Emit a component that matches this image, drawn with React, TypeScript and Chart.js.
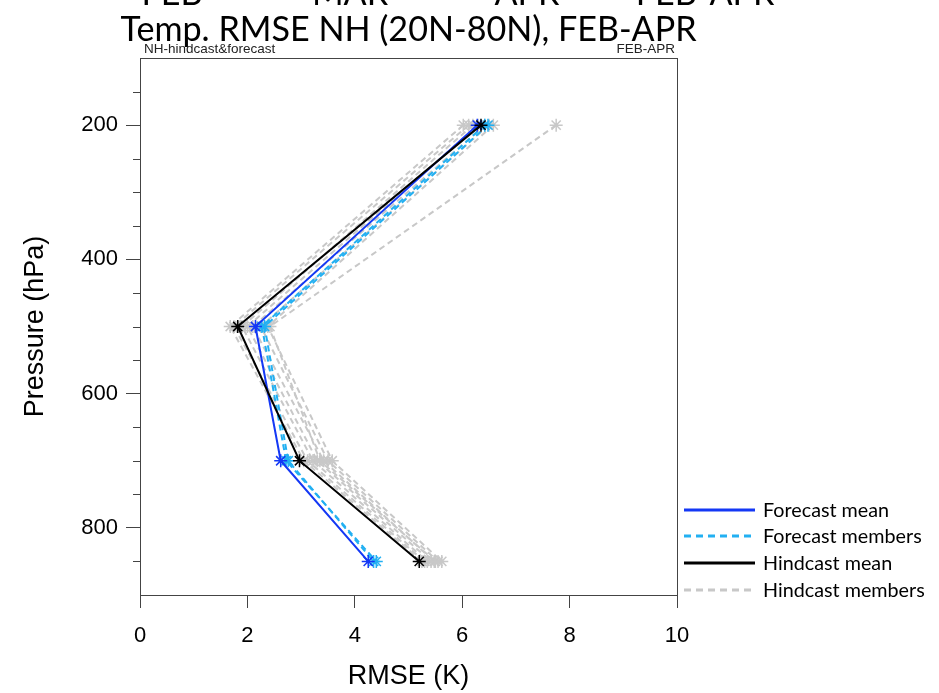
import React, { useEffect, useRef } from 'react';
import { Chart, registerables } from 'chart.js';

Chart.register(...registerables);

// ---- data ----
const levels = [200, 500, 700, 850];
const forecastMean = [6.28, 2.15, 2.62, 4.25];
const hindcastMean = [6.35, 1.82, 2.97, 5.2];
const forecastMember1 = [6.42, 2.27, 2.72, 4.4];
const forecastMember2 = [6.48, 2.32, 2.76, 4.35];
const hindcastMember1 = [6.02, 1.68, 3.05, 5.25];
const hindcastMember2 = [6.12, 1.75, 3.12, 5.3];
const hindcastMember3 = [6.2, 1.9, 3.22, 5.35];
const hindcastMember4 = [6.3, 2.0, 3.3, 5.42];
const hindcastMember5 = [6.42, 2.1, 3.42, 5.48];
const hindcastMember6 = [6.5, 2.25, 3.5, 5.55];
const hindcastMember7 = [6.58, 2.38, 3.58, 5.62];
const hindcastMember8 = [7.75, 2.42, 3.35, 5.5];
const xTicks = [0, 2, 4, 6, 8, 10];
const yMajorTicks = [200, 400, 600, 800];
const yMinorTicks = [150, 250, 300, 350, 450, 500, 550, 650, 700, 750, 850];
const title = 'Temp. RMSE NH (20N-80N), FEB-APR';
const topCutLabels = ['FEB', 'MAR', 'APR', 'FEB-APR'];
const legendLabels = ['Forecast mean', 'Forecast members', 'Hindcast mean', 'Hindcast members'];

const BLUE = '#1438f5';
const CYAN = '#22b0f2';
const BLACK = '#000000';
const GRAY = '#c8c8c8';
const AXIS = '#444444';
const CAL_FONT = 'Lato';
const HELV = '"Liberation Sans", Arial, sans-serif';

export default function App() {
  const ref = useRef<HTMLCanvasElement>(null);

  useEffect(() => {
    const mk = (vals: number[]) => vals.map((v, i) => ({ x: v, y: levels[i] }));
    const datasets: any[] = [];
    const hMembers = [hindcastMember1, hindcastMember2, hindcastMember3, hindcastMember4, hindcastMember5, hindcastMember6, hindcastMember7, hindcastMember8];
    hMembers.forEach((m, i) => {
      datasets.push({
        label: 'Hindcast member ' + (i + 1), data: mk(m), showLine: true,
        borderColor: GRAY, backgroundColor: GRAY, borderWidth: 2, borderDash: [6, 4],
        pointStyle: 'star', pointRadius: 6.5, pointBorderWidth: 1.5, pointBorderColor: GRAY, order: 5,
      });
    });
    [forecastMember1, forecastMember2].forEach((m, i) => {
      datasets.push({
        label: 'Forecast member ' + (i + 1), data: mk(m), showLine: true,
        borderColor: CYAN, backgroundColor: CYAN, borderWidth: 2, borderDash: [6, 4],
        pointStyle: 'star', pointRadius: 6.5, pointBorderWidth: 1.5, pointBorderColor: CYAN, order: 3,
      });
    });
    datasets.push({
      label: 'Forecast mean', data: mk(forecastMean), showLine: true,
      borderColor: BLUE, backgroundColor: BLUE, borderWidth: 2,
      pointStyle: 'star', pointRadius: 6.5, pointBorderWidth: 1.5, pointBorderColor: BLUE, order: 2,
    });
    datasets.push({
      label: 'Hindcast mean', data: mk(hindcastMean), showLine: true,
      borderColor: BLACK, backgroundColor: BLACK, borderWidth: 2,
      pointStyle: 'star', pointRadius: 6.5, pointBorderWidth: 1.5, pointBorderColor: BLACK, order: 1,
    });

    const decor = {
      id: 'decor',
      afterDraw(chart: any) {
        const ctx = chart.ctx as CanvasRenderingContext2D;
        const ca = chart.chartArea;
        const ys = chart.scales.y;
        ctx.save();
        ctx.strokeStyle = AXIS;
        ctx.lineWidth = 1;
        ctx.strokeRect(Math.round(ca.left) + 0.5, Math.round(ca.top) + 0.5, Math.round(ca.right - ca.left), Math.round(ca.bottom - ca.top));
        yMinorTicks.forEach((v) => {
          const py = Math.round(ys.getPixelForValue(v)) + 0.5;
          ctx.beginPath();
          ctx.moveTo(ca.left - 7, py);
          ctx.lineTo(ca.left, py);
          ctx.stroke();
        });
        const calSize = 38;
        ctx.font = `${Math.round(calSize * 0.9)}px ${CAL_FONT}`;
        const w = ctx.measureText(title).width;
        const sx = 573 / w;
        const drawCal = (text: string, x: number, y: number, size: number, align: CanvasTextAlign, color = '#000') => {
          ctx.save();
          ctx.font = `${size * 0.9}px ${CAL_FONT}`;
          ctx.fillStyle = color;
          ctx.textAlign = align;
          ctx.textBaseline = 'alphabetic';
          ctx.translate(x, y);
          ctx.scale(sx, 1);
          ctx.fillText(text, 0, 0);
          ctx.restore();
        };
        const cx = (ca.left + ca.right) / 2;
        drawCal(title, cx, 41, calSize, 'center');
        const cutX = [172, 350, 527, 705];
        topCutLabels.forEach((t, i) => drawCal(t, cutX[i], 5, calSize, 'center'));
        ctx.font = `13.5px ${HELV}`;
        ctx.fillStyle = '#222';
        ctx.textBaseline = 'alphabetic';
        ctx.textAlign = 'left';
        ctx.fillText('NH-hindcast&forecast', ca.left + 4, ca.top - 5);
        ctx.textAlign = 'right';
        ctx.fillText('FEB-APR', ca.right - 2, ca.top - 5);
        const rows = [510, 536, 563, 590];
        const lcol = [BLUE, CYAN, BLACK, GRAY];
        const ldash = [[], [7, 5], [], [7, 5]];
        legendLabels.forEach((lab, i) => {
          ctx.save();
          ctx.strokeStyle = lcol[i];
          ctx.lineWidth = 3;
          ctx.setLineDash(ldash[i]);
          ctx.beginPath();
          ctx.moveTo(684, rows[i]);
          ctx.lineTo(755, rows[i]);
          ctx.stroke();
          ctx.restore();
          drawCal(lab, 763, rows[i] + 7, 22, 'left');
        });
        ctx.restore();
      },
    };

    const chart = new Chart(ref.current as HTMLCanvasElement, {
      type: 'scatter',
      data: { datasets },
      options: {
        responsive: false,
        animation: false,
        layout: { padding: { top: 58, right: 262, left: 0, bottom: 0 } },
        plugins: { legend: { display: false }, tooltip: { enabled: false }, title: { display: false } },
        scales: {
          x: {
            type: 'linear', min: 0, max: 10,
            afterFit: (s: any) => { s.height = 98; },
            afterBuildTicks: (s: any) => { s.ticks = xTicks.map((v) => ({ value: v })); },
            grid: { drawOnChartArea: false, drawTicks: true, tickLength: 13, tickColor: AXIS, tickWidth: 1 },
            border: { display: true, color: AXIS, width: 1 },
            ticks: { color: '#000', font: { family: HELV, size: 22 }, padding: 15, maxRotation: 0 },
            title: { display: true, text: 'RMSE (K)', color: '#000', font: { family: HELV, size: 27 }, padding: { top: 1, bottom: 0 } },
          },
          y: {
            type: 'linear', min: 100, max: 900, reverse: true,
            afterFit: (s: any) => { s.width = 140; },
            afterBuildTicks: (s: any) => { s.ticks = yMajorTicks.map((v) => ({ value: v })); },
            grid: { drawOnChartArea: false, drawTicks: true, tickLength: 14, tickColor: AXIS, tickWidth: 1 },
            border: { display: true, color: AXIS, width: 1 },
            ticks: { color: '#000', font: { family: HELV, size: 22 }, padding: 8 },
            title: { display: true, text: 'Pressure (hPa)', color: '#000', font: { family: HELV, size: 27 }, padding: { top: 19, bottom: 0 } },
          },
        },
      },
      plugins: [decor],
    } as any);
    return () => chart.destroy();
  }, []);

  return (
    <div style={{ position: 'fixed', left: 0, top: 0, width: 939, height: 693, background: '#fff' }}>
      <canvas ref={ref} width={939} height={693} style={{ width: 939, height: 693, display: 'block' }} />
    </div>
  );
}
